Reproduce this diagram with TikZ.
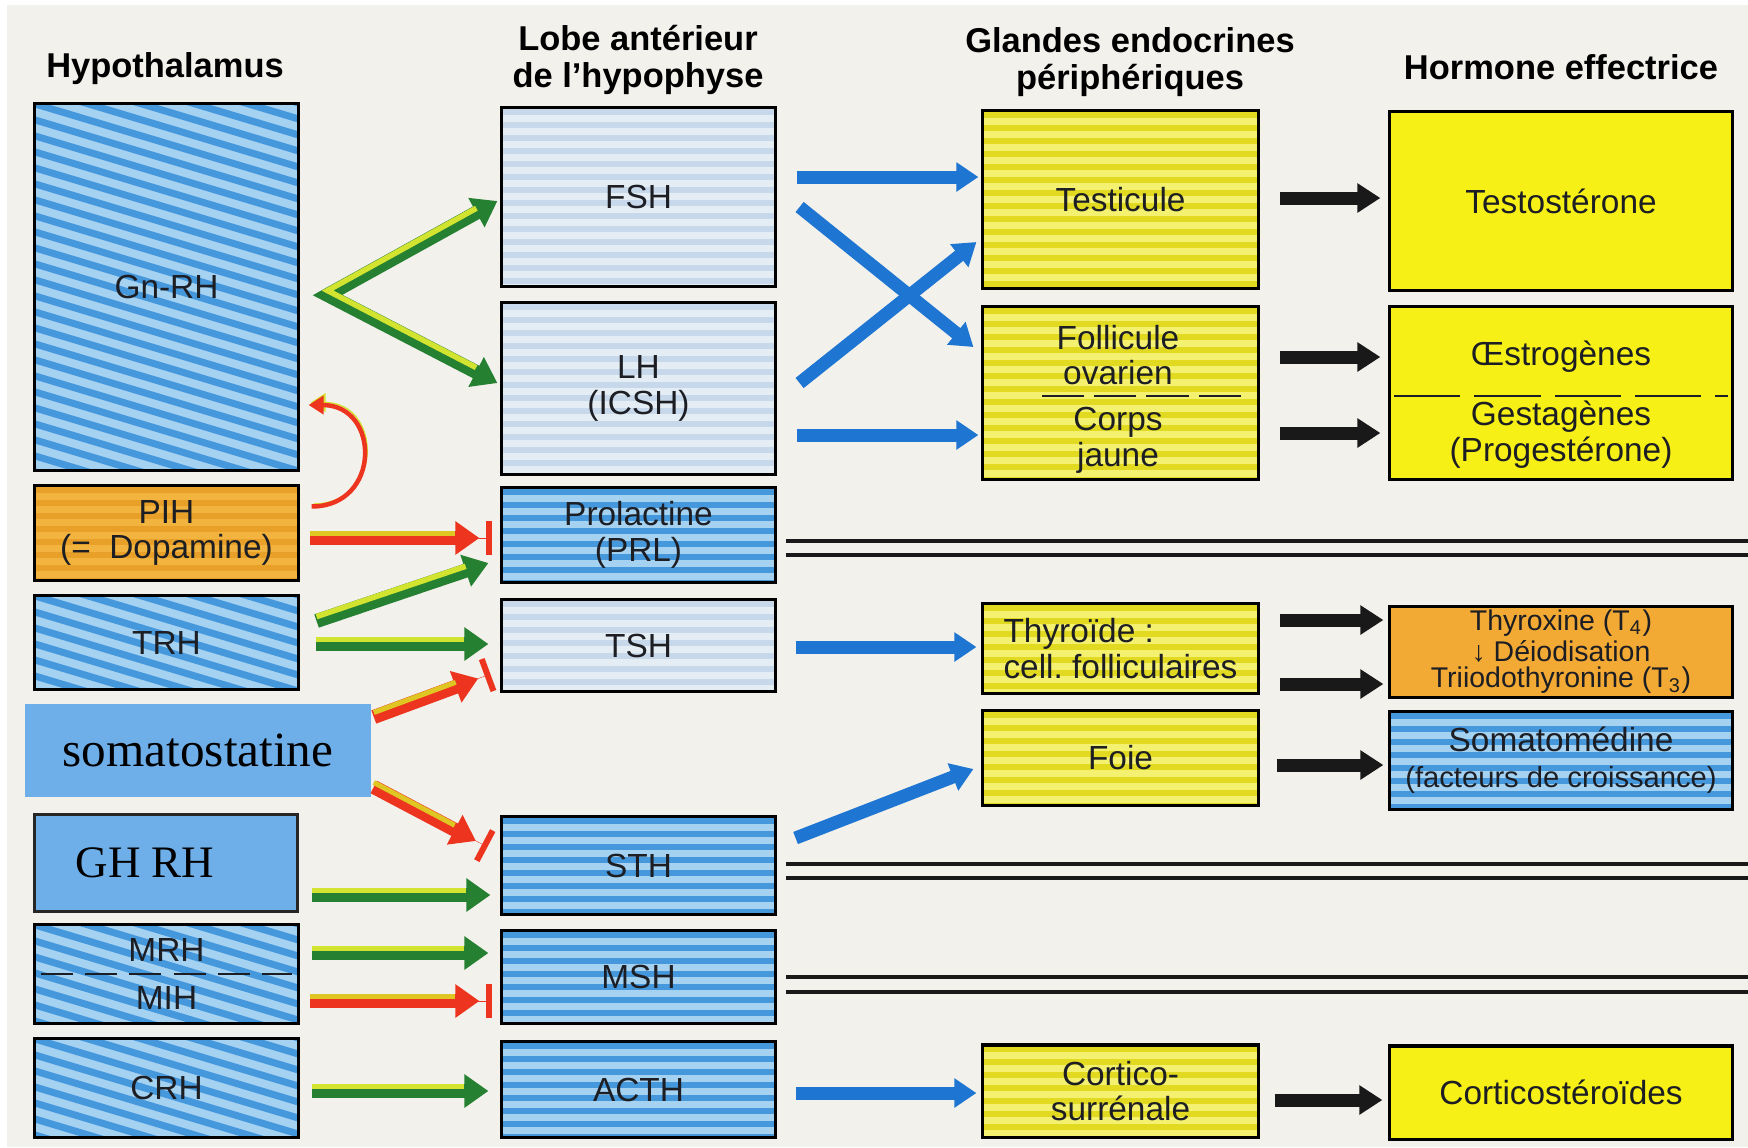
\documentclass[tikz,border=0pt]{standalone}
\usepackage{fontspec}
\setmainfont{Liberation Sans}
\newfontfamily\patchfont{Liberation Serif}
\usetikzlibrary{arrows.meta,calc}

\definecolor{paper}{RGB}{243,241,236}
\definecolor{textgrey}{RGB}{28,30,36}
\definecolor{hypodark}{RGB}{70,152,220}
\definecolor{hypolight}{RGB}{166,210,242}
\definecolor{lobepale}{RGB}{228,237,243}
\definecolor{lobestripe}{RGB}{198,216,234}
\definecolor{glandyellow}{RGB}{244,240,112}
\definecolor{glandstripe}{RGB}{226,218,32}
\definecolor{hormyellow}{RGB}{247,240,22}
\definecolor{hormorange}{RGB}{242,170,52}
\definecolor{pihorange}{RGB}{242,180,62}
\definecolor{pihstripe}{RGB}{232,160,40}
\definecolor{patchblue}{RGB}{110,175,234}
\definecolor{arrgreen}{RGB}{38,128,50}
\definecolor{arryellow}{RGB}{210,228,48}
\definecolor{arrred}{RGB}{236,52,30}
\definecolor{arrblue}{RGB}{30,118,210}

\newcommand{\boxfont}{\fontsize{9.5}{10.2}\selectfont}
\newcommand{\headfont}{\fontsize{9.8}{10.6}\selectfont\bfseries}
\newcommand{\thyrofont}{\fontsize{8.1}{7.6}\selectfont}

% stripes seen in the printed boxes
\newcommand{\diagstripes}[1]{%
  \foreach \k in {-220,-204,...,420}
    \draw[#1, line width=0.07cm] ($(path picture bounding box.north west)+(-40,\k)$) -- ++(600,180);}
\newcommand{\flatstripes}[1]{%
  \foreach \k in {4,17,...,200}
    \draw[#1, line width=0.055cm] ($(path picture bounding box.north west)+(-5,\k)$) -- ++(400,0);}

\begin{document}
\begin{tikzpicture}[x=0.01cm, y=-0.01cm, line join=miter,
    box/.style={rectangle, draw=black, line width=0.03cm, inner sep=0pt, align=center, text=textgrey, font=\boxfont},
    txt/.style={inner sep=0pt, align=center, text=textgrey, font=\boxfont},
    head/.style={inner sep=0pt, align=center, font=\headfont},
    hypo/.style={box, minimum width=2.63cm, fill=hypolight, path picture={\diagstripes{hypodark}}},
    pihbox/.style={box, minimum width=2.63cm, fill=pihorange, path picture={\flatstripes{pihstripe}}},
    patch/.style={rectangle, fill=patchblue, inner sep=0pt, text=black, font=\patchfont\fontsize{14}{16}\selectfont},
    lobe/.style={box, minimum width=2.73cm, fill=lobepale, path picture={\flatstripes{lobestripe}}},
    lobedark/.style={box, minimum width=2.73cm, fill=hypolight, path picture={\flatstripes{hypodark}}},
    gland/.style={box, minimum width=2.75cm, fill=glandyellow, path picture={\flatstripes{glandstripe}}},
    horm/.style={box, minimum width=3.42cm, fill=hormyellow},
    hormblue/.style={box, minimum width=3.42cm, fill=hypolight, path picture={\flatstripes{hypodark}}},
    divider/.style={draw=textgrey, line width=0.02cm},
    sepline/.style={draw=black!90, line width=0.035cm},
    garrow/.style={draw=arrgreen, line width=0.14cm, -{Triangle[length=0.24cm,width=0.32cm]},
      postaction={draw=arryellow, line width=0.055cm, -, shorten >=0.24cm, shorten <=#1,
        transform canvas={yshift=0.044cm}}},
    garrow/.default=0cm,
    redarrow/.style={draw=arrred, line width=0.14cm, -{Triangle[length=0.24cm,width=0.32cm]}, shorten >=0.13cm,
      postaction={draw=arryellow!70!orange, line width=0.05cm, -, shorten >=0.37cm,
        transform canvas={yshift=0.045cm}},
      postaction={draw=arrred, line width=0.1pt, -{Bar[width=0.34cm,line width=0.06cm]}, shorten >=0pt}},
    curvearrow/.style={draw=arrred, line width=0.045cm, -{Triangle[length=0.15cm,width=0.18cm]},
      preaction={draw=arryellow, transform canvas={xshift=0.02cm,yshift=0.025cm}}},
    bluearrow/.style={draw=arrblue, line width=0.13cm, -{Triangle[length=0.22cm,width=0.28cm]}},
    blackarrow/.style={draw=black!90, line width=0.13cm, -{Triangle[length=0.23cm,width=0.28cm]}}]

    \useasboundingbox (0,0) rectangle (1748,1147);
    \fill[white] (0,0) rectangle (1748,1147);
    \fill[paper] (7,5) rectangle (1748,1147);

    % Column heads
    \node[head] (hhypo) at (165,69) {Hypothalamus};
    \node[head] (hlobe) at (638,60) {Lobe antérieur\\de l'hypophyse};
    \node[head] (hglan) at (1130,62) {Glandes endocrines\\périphériques};
    \node[head] (hhorm) at (1561,67) {Hormone effectrice};

    % Hypothalamus
    \node[hypo, minimum height=3.66cm] (gnrh) at (166.5,287) {Gn-RH};
    \node[pihbox, minimum height=0.94cm] (pih) at (166.5,533) {PIH\\(=\ \ Dopamine)};
    \node[hypo, minimum height=0.93cm] (trh) at (166.5,642.5) {TRH};
    \node[patch, minimum width=3.46cm, minimum height=0.93cm] (somato) at (198,750.5) {somatostatine};
    \node[patch, draw=black!85, line width=0.03cm, minimum width=2.62cm, minimum height=0.96cm,
        font=\patchfont\fontsize{12.8}{15}\selectfont] (ghrh) at (166,863) {GH RH\hspace*{0.42cm}};
    \node[hypo, minimum height=0.98cm] (mrh) at (166.5,974) {};
    \node[txt] (mrhlab) at (166.5,950) {MRH};
    \node[txt] (mihlab) at (166.5,998) {MIH};
    \node[hypo, minimum height=0.98cm] (crh) at (166.5,1088) {CRH};
    \draw[divider, dash pattern=on 0.32cm off 0.12cm] ($(mrh.west)+(8,0)$) -- ($(mrh.east)+(-8,0)$);

    % Lobe anterieur
    \node[lobe, minimum height=1.78cm] (fsh) at (638.5,197) {FSH};
    \node[lobe, minimum height=1.71cm] (lh) at (638.5,388.5) {LH\\(ICSH)};
    \node[lobedark, minimum height=0.94cm] (prl) at (638.5,535) {Prolactine\\(PRL)};
    \node[lobe, minimum height=0.91cm] (tsh) at (638.5,645.5) {TSH};
    \node[lobedark, minimum height=0.97cm] (sth) at (638.5,865.5) {STH};
    \node[lobedark, minimum height=0.92cm] (msh) at (638.5,977) {MSH};
    \node[lobedark, minimum height=0.95cm] (acth) at (638.5,1089.5) {ACTH};

    % Glandes
    \node[gland, minimum height=1.77cm] (testi) at (1120.5,199.5) {Testicule};
    \node[gland, minimum height=1.72cm] (foll) at (1120.5,393) {};
    \node[txt] (follab) at (1118,355) {Follicule\\ovarien};
    \node[txt] (corpslab) at (1118,440) {Corps\\jaune};
    \draw[divider, dash pattern=on 0.42cm off 0.1cm] ($(foll.west)+(61,3)$) -- ($(foll.east)+(-11,3)$);
    \node[gland, minimum height=0.89cm, align=left] (thyro) at (1120.5,648.5) {Thyroïde :\\cell.\ folliculaires};
    \node[gland, minimum height=0.94cm] (foie) at (1120.5,758) {Foie};
    \node[gland, minimum height=0.92cm] (cortico) at (1120.5,1091) {Cortico-\\surrénale};

    % Hormones
    \node[horm, minimum height=1.78cm] (testo) at (1561,201) {Testostérone};
    \node[horm, minimum height=1.72cm] (oestro) at (1561,393) {};
    \node[txt] (oestlab) at (1561,357) {Œstrogènes};
    \node[txt] (gestlab) at (1561,434.5) {Gestagènes\\(Progestérone)};
    \draw[divider, dash pattern=on 0.66cm off 0.14cm] ($(oestro.west)+(6,3)$) -- ($(oestro.east)+(-6,3)$);
    \node[horm, fill=hormorange, minimum height=0.91cm, font=\thyrofont] (thyrox) at (1561,652)
        {Thyroxine (T\textsubscript{4})\\↓ Déiodisation\\Triiodothyronine (T\textsubscript{3})};
    \node[hormblue, minimum height=0.97cm] (somed) at (1561,760.5)
        {Somatomédine\\{\fontsize{8.3}{10}\selectfont(facteurs de croissance)}};
    \node[horm, minimum height=0.93cm] (corti) at (1561,1092.5) {Corticostéroïdes};

    % Separating double lines
    \foreach \y in {541,555,864,878,977,992}
        \draw[sepline] (786,\y) -- (1748,\y);

    % Releasing hormones
    \draw[garrow=0.24cm, {Triangle[length=0.24cm,width=0.32cm]}-{Triangle[length=0.24cm,width=0.32cm]}]
        ($(fsh.west)+(-3,4)$) -- ($(gnrh.east)+(28,8)$) -- ($(lh.west)+(-3,-5.5)$);
    \draw[garrow] ($(trh.east)+(17,-21.5)$) -- ($(prl.west)+(-12,28)$);
    \draw[garrow] ($(trh.east)+(16,1.5)$) -- ($(tsh.west)+(-12,-1.5)$);
    \draw[garrow] ($(ghrh.east)+(13,32)$) -- ($(sth.west)+(-10,29.5)$);
    \draw[garrow] ($(mrh.east)+(12,-21)$) -- ($(msh.west)+(-12,-24)$);
    \draw[garrow] ($(crh.east)+(12,3)$) -- ($(acth.west)+(-12,1.5)$);

    % Inhibiting hormones
    \draw[redarrow] ($(pih.east)+(10,5)$) -- ($(prl.west)+(-8,3)$);
    \draw[redarrow] ($(somato.east)+(2,-33.5)$) -- ($(tsh.west)+(-10,28.5)$);
    \draw[redarrow] ($(somato.east)+(2,36.5)$) -- ($(sth.west)+(-13,-18.5)$);
    \draw[redarrow] ($(mrh.east)+(10,27)$) -- ($(msh.west)+(-8,24)$);
    \draw[curvearrow] ($(pih.north east)+(12,22)$) .. controls +(70,0) and +(72,0) .. ($(gnrh.east)+(9,118)$);

    % Stimulines
    \draw[bluearrow] ($(fsh.east)+(20,-20)$) -- ($(testi.west)+(-3,-22.5)$);
    \draw[bluearrow] ($(fsh.east)+(23,10)$) -- ($(foll.west)+(-8,-46)$);
    \draw[bluearrow] ($(lh.east)+(23,-5.5)$) -- ($(testi.west)+(-5,42.5)$);
    \draw[bluearrow] ($(lh.east)+(20,46.5)$) -- ($(foll.west)+(-3,42)$);
    \draw[bluearrow] ($(tsh.east)+(19,1.5)$) -- ($(thyro.west)+(-5,-1.5)$);
    \draw[bluearrow] ($(sth.east)+(19,-27.5)$) -- ($(foie.west)+(-8,11)$);
    \draw[bluearrow] ($(acth.east)+(19,3.5)$) -- ($(cortico.west)+(-5,2)$);

    % Effector hormones
    \draw[blackarrow] ($(testi.east)+(20,-1.5)$) -- ($(testo.west)+(-8,-3)$);
    \draw[blackarrow] ($(foll.east)+(20,-36)$) -- ($(oestro.west)+(-8,-36)$);
    \draw[blackarrow] ($(foll.east)+(20,40)$) -- ($(oestro.west)+(-8,40)$);
    \draw[blackarrow] ($(thyro.east)+(20,-28.5)$) -- ($(thyrox.west)+(-5,-32)$);
    \draw[blackarrow] ($(thyro.east)+(20,35.5)$) -- ($(thyrox.west)+(-5,32)$);
    \draw[blackarrow] ($(foie.east)+(17,7)$) -- ($(somed.west)+(-5,4.5)$);
    \draw[blackarrow] ($(cortico.east)+(15,9)$) -- ($(corti.west)+(-6,7.5)$);

\end{tikzpicture}
\end{document}
